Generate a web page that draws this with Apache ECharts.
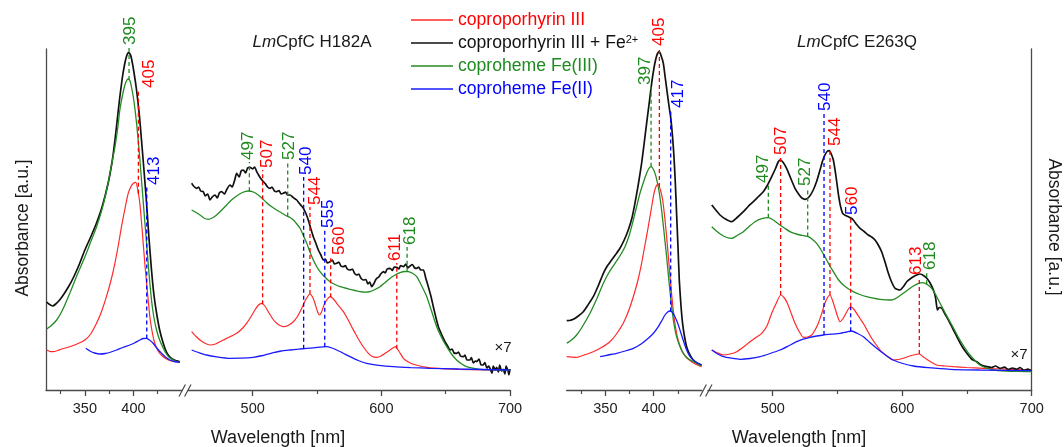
<!DOCTYPE html>
<html>
<head>
<meta charset="utf-8">
<script src="https://cdn.jsdelivr.net/npm/echarts@6/dist/echarts.min.js"></script>
<style>
  html, body { margin: 0; padding: 0; background: #fff; }
  #chart { width: 1064px; height: 447px; }
</style>
</head>
<body>
<div id="chart"></div>
<script>
// Spectra: [wavelength nm, absorbance a.u.]
// H182A, Soret region
const h182aSoretRed = [[310.7,40],[314,38.5],[317.6,38.3],[322,39.5],[328,41.5],[334.6,43.3],[342,46],[350,50],[356,56],[362,66.7],[367,78],[372.2,93.3],[377,110],[380.9,126.7],[384.5,145],[387.7,163.3],[391,180],[394.6,196.7],[397.5,203.5],[399.7,206.5],[402.5,207.7],[404.5,200],[406.6,186.7],[409,160],[411.7,126.7],[414.5,97],[416.9,73.3],[419.5,57],[422,46.7],[426,38],[430.6,33.3],[436,30],[441,28.5],[447.8,27.7]];
const h182aSoretBlack = [[310.7,88],[313,86],[316.9,84],[320,86],[324,90],[327.8,95],[333,103],[338,112],[344,125],[350,140],[356,153],[362,167],[368,184],[374,207],[378,228],[381,250],[384,276],[386,293],[389,315],[391.2,327],[393,334],[394.8,337.5],[396.5,336],[398,331.5],[400.5,318],[403.2,300],[406,276],[408.3,250],[411,218],[413.5,187],[416,152],[418.6,120],[421,96],[423.8,77],[427,60],[430.6,47],[434,38],[437.5,33],[442,30],[447.8,28.3]];
const h182aSoretGreen = [[310.7,61],[315,64],[321,70],[327,80],[334.6,97],[342,115],[350,133],[356,148],[362,163],[368,182],[374,207],[378,228],[381,243],[384,263],[386,280],[389,296],[391.2,305],[393,309.5],[394.6,311],[396.5,309],[398,303],[400.5,289],[403.2,267],[406,238],[408.3,210],[411,177],[413.5,147],[416,117],[418.6,90],[421,73],[423.8,60],[427,50],[430.6,42],[434,36],[437.5,32],[442,29.5],[447.8,27.7]];
const h182aSoretBlue = [[351,41.7],[356,38.5],[360,37],[365.5,36],[371,36.5],[377,38],[382.6,40],[389,42.5],[396.3,45],[401,47],[406.6,50],[410,51.5],[413.5,51.7],[416.5,50],[420.3,46.7],[424,42],[428.9,36.7],[433,33],[437.5,30],[442,28.5],[447.8,27.7]];

// H182A, visible region (x7)
const h182aVisRed = [[452.5,58.3],[456,53.5],[459,50],[462.5,47],[466.8,45],[471,46],[477.1,50],[482,53],[487.5,56.7],[491.5,61],[495.2,66.7],[498.5,73],[501.7,80],[504.5,85],[506.9,86.7],[509.5,84],[512.1,78.3],[514.8,72.5],[517.3,68.3],[520.5,65],[523.8,63.3],[527.5,64.5],[531.6,68.3],[535,74],[538.1,81.7],[541.5,91],[544.5,96],[546.5,93],[548.4,86.7],[550.2,79],[551.8,75],[553.5,78],[555.4,85],[557.8,90.5],[560.1,93.3],[562.7,91],[565.3,86.7],[568,82.5],[570.5,78.3],[573.8,71],[576.9,63.3],[580.2,55.5],[583.4,48.3],[586.6,42],[589.9,36.7],[593,33.5],[596.4,32.7],[599.7,34],[602.9,36.7],[606.8,40],[610.7,43.3],[613.8,38.5],[617.1,31.7],[621,28],[624.9,25.7],[630,24],[635.3,22.7],[642,21.8],[650.8,21],[670,20.4],[700,20]];
const h182aVisBlack = [[452.5,206.7],[454,204],[456.4,201.7],[458,203],[459.5,199],[461.6,198.3],[463,194],[465,196],[466.8,190],[468.5,193],[470.7,195],[472.5,192],[474,197],[475.9,198.3],[478,196],[480,201],[482.3,205],[484,203],[486,210],[487.5,216.7],[489.5,213],[491,219],[492.7,220],[494.5,217],[496,222],[497.9,222.7],[500,221],[501.5,223],[503.1,218.3],[505,214],[506.5,211],[508.3,208.3],[510,206],[511.5,203],[513.4,201.7],[515,203],[516.8,199],[518.6,198.3],[520.5,199.5],[522,196],[523.8,196.7],[525.5,198],[527,195],[529,195],[531,193],[532.5,191.5],[534.2,190],[536,187],[538,184],[539.4,181.7],[541.5,176],[543.2,170],[545,162],[547.1,153.3],[549,147],[551,140],[553,135],[554.9,130],[556.5,131],[558,127],[560.1,128.3],[562,130],[563.5,126],[565.3,126.7],[567,128],[568.5,124],[570.5,123.3],[572,124.5],[573.5,121],[575.6,120],[577.5,121],[579,117],[580.8,115],[582.5,116],[584,112],[586,110],[588,110.5],[589.5,106],[591,108],[592.5,103.3],[594,106],[595.5,110],[596.4,111.7],[598,113],[599.5,116],[601.6,118.3],[603,117],[604.5,121],[606.8,121.7],[608.5,119.5],[610,123],[611.9,122.7],[613.5,121],[615,124.5],[617.1,123.3],[619,126],[620.5,122],[622.3,124],[624,125.5],[626,122],[627.5,121.7],[629,123],[630.5,120],[632.7,120],[634.5,112],[636.5,103.3],[638.5,94],[640.4,83.3],[642.3,73],[644.3,63.3],[646,58],[648.2,51.7],[650,47],[651.5,44],[653.3,40],[655,41],[656.5,37],[658.5,36.7],[660,38],[661.5,34],[663.7,33.3],[665,35],[666.5,30],[668.9,30],[670,32.5],[671.5,27],[673,29],[674.1,28.3],[676,31],[677.5,25],[679.2,25],[680.5,27.5],[682,22],[683.5,24],[684.4,21.7],[686,17],[687,24],[688.5,20],[689.6,22.7],[691,18],[692,25],[693.5,19],[694.8,20.7],[696,16],[697,24],[698.5,19],[699.2,15],[700,21]];
const h182aVisGreen = [[452.5,180],[456,177.5],[459,175],[462,172],[465.5,170.7],[468.5,172],[471.9,175],[476,180],[479.7,185],[483.5,190],[487.5,194],[492,197.5],[496.5,199],[500.5,198],[504.3,195],[507.5,191.5],[510.8,187.3],[514.5,183.5],[518.6,180],[522.5,177],[526.4,174],[529,172.5],[531.6,170],[534,166.5],[536.8,161.7],[539.5,154],[542,146.7],[544.5,138],[547.1,130],[549.7,123.5],[552.3,118.3],[556,113],[560.1,108.3],[564,105.5],[567.9,103.3],[571.8,102],[575.6,100.7],[579.5,99.5],[583.4,98.3],[587.3,97.8],[591.2,98.3],[595,100.5],[599,103.3],[603,107.5],[606.8,111.7],[610.7,115],[614.6,117.3],[618,118.5],[621,118.3],[624.5,116.5],[627.5,113.3],[631,105],[635.3,93.3],[639,79],[643,63.3],[647,52],[650.8,43.3],[654.5,36],[658.5,30],[662.5,26],[666.3,23.3],[671,21.8],[676.6,20.7],[685,20.3],[700,20]];
const h182aVisBlue = [[452.5,40],[458,37.5],[464.2,35],[472,33.2],[482.3,31.7],[491,31.8],[500.5,32.7],[508,34.5],[516,37.3],[522,39],[529,40],[535.5,40.8],[542,41.7],[550,42.7],[557.5,43.3],[561.5,42],[565.3,40],[570,37],[575.6,33.3],[582,29.5],[588.6,26.7],[598,24.7],[609.4,23.3],[623,22.4],[637.8,21.7],[660,21],[700,20]];

// E263Q, Soret region
const e263qSoretRed = [[310,33.3],[315,32.8],[320.3,32.7],[328,35],[337.5,38.3],[346,42.5],[354.7,48.3],[361.5,56],[368.5,66.7],[374,79],[378.9,93.3],[383.5,109],[387.5,126.7],[391,145],[394.4,163.3],[397.5,181],[400.3,196.7],[402.6,204],[404.8,206],[407,200],[409.3,190],[411.3,174],[413.4,153.3],[415.5,130],[417.5,106.7],[419.8,84],[422,66.7],[425,51],[428.9,40],[433.5,33],[439.3,28.3],[444,25.5],[449.6,23.3]];
const e263qSoretBlack = [[310,69.3],[313,69.5],[316.9,70.7],[322,74],[327.2,78.3],[332,85],[337.5,93.3],[343,105],[347.9,116.7],[352,124],[356.5,130],[361,136],[365.1,141.7],[369.5,150],[373.7,160],[377.5,172],[380.6,186.7],[384,205],[387.5,226.7],[390.2,247],[392.7,266.7],[395.5,288],[397.9,306.7],[400.3,322],[402.4,331.7],[404,336.5],[405.8,338.3],[407.8,334],[410,326.7],[412,312],[414.1,296.7],[416,283],[417.5,273.3],[419.3,256],[421,233.3],[422.5,205],[423.7,176.7],[425.2,142],[426.5,110],[428.2,85],[429.9,66.7],[432,53],[434.1,43.3],[437.5,35],[441,30],[445,27],[449.6,25]];
const e263qSoretGreen = [[310,46.7],[315,50],[320.3,55],[326,63],[334.1,76.7],[341,91],[347.9,106.7],[354,118],[360,126.7],[365,134],[370.3,143.3],[374.8,155],[378.9,170],[382.5,184],[385.8,196.7],[389.5,208],[392.7,216.7],[395,221.5],[397.2,223.3],[399.8,220.5],[402.4,213.3],[405.5,199],[408.2,180],[410.8,157],[413.4,133.3],[416,107],[418.6,83.3],[421,66],[423.7,53.3],[427,44],[430.6,36.7],[435.5,31.5],[441,28.3],[449.6,24]];
const e263qSoretBlue = [[344.5,33.3],[353,35],[361.8,36.7],[370.5,39],[379,41.7],[387,46],[394.4,51.7],[400,57],[404.8,63.3],[408.5,69.5],[411.7,75],[414.5,78],[416.9,79],[419.5,77.5],[422,73.3],[424.6,67.5],[427.2,60],[430.5,50],[434.1,40],[437.5,33.5],[441,30],[445,27],[449.6,25]];

// E263Q, visible region (x7)
const e263qVisRed = [[452.9,40],[457.5,37],[461.9,35],[467,36],[472.2,38.3],[477.4,43],[482.5,48.3],[487,52.5],[491.5,56.7],[495.5,64],[499.2,76.7],[502.8,87],[506.1,95],[508.7,92.5],[511.3,86.7],[514.3,76.5],[517.2,66.7],[520.4,58.5],[523.6,52.7],[526.9,53],[530.1,55],[532.7,60],[535.2,66.7],[537.8,76.5],[540.3,86.7],[542.3,92.5],[544.2,95],[546.2,89.5],[548.1,81.7],[550,74],[551.9,68.3],[554.3,71.5],[556.6,76.7],[558.4,81],[560.2,83.3],[562.5,81],[564.8,76.7],[567.4,71.5],[569.9,66.7],[573.2,59],[576.4,51.7],[580.3,44.5],[584.1,38.3],[588.6,33.5],[593.1,30],[597,30.5],[600.8,31.7],[604.7,33.5],[608.6,35],[613.2,36],[616,33.5],[618.9,30.7],[622.8,27.5],[626.6,25],[633,24],[639.5,23.3],[650,22.5],[662.7,21.7],[680,20.8],[700,20]];
const e263qVisBlack = [[452.9,185],[456,180],[459.3,175],[463.5,171],[468.3,168.3],[472.5,172.5],[477.3,178.3],[481,183.5],[485,188.3],[489,193.5],[492.7,198.3],[496,205],[499.2,213.3],[502.3,222],[504.2,228],[505.6,230],[507.8,228],[510.7,221.7],[513.8,212],[517.2,201.7],[520.5,195],[522.5,192],[524.9,190.7],[528,193],[531.3,200],[534,209],[536.5,220],[538.5,229],[540.3,235],[542,238.5],[543.7,239.3],[545.2,236],[546.8,230],[548.7,215],[550.6,196.7],[552.3,184],[554,176.7],[556.2,174.5],[558.4,173.3],[560.3,172],[562.2,170],[564.8,165.5],[567.4,161.7],[570.6,158.5],[573.8,155],[576.4,153],[579,150],[581.5,145],[584.1,138.3],[586.7,128],[589.3,116.7],[591.8,108],[594.4,101.7],[596.4,100.5],[598.3,100],[601,103.5],[603.5,108.3],[606,111],[608.6,113.3],[611.2,115],[613.8,116],[616.4,114.5],[619,111.7],[621.5,107],[624.1,100],[625.8,92],[627.2,80],[628.6,82.5],[630.6,81.7],[633,76],[635.7,70],[639,61.5],[642.2,53.3],[646,44],[649.9,36.7],[653.5,31],[657.6,28.3],[661,25],[665.3,23.3],[669,22.5],[672,24],[675.6,21.7],[679,22.8],[682,20.5],[685,22],[688.5,20.7],[691,22.5],[694,19.5],[697,20.8],[700,19.3]];
const e263qVisGreen = [[452.9,163.3],[456.5,159],[460.6,155],[464.5,152.5],[468.3,151.7],[472.5,154.5],[477.3,158.3],[481.8,163.5],[486.3,168.3],[491.5,171.3],[496.6,172.3],[501,169.5],[505.6,165],[509.5,161.5],[513.3,158.3],[517.2,156.3],[521.1,155],[524.3,154.3],[527.5,153.3],[530.7,150.5],[533.9,146.7],[537.1,140.5],[540.3,133.3],[543.5,125.5],[546.8,118.3],[550.6,110.5],[554.5,105],[558.3,101.2],[562.2,98.3],[567.3,95.5],[572.5,93.3],[577.6,91.8],[582.8,90.7],[587.3,90.2],[591.8,90],[596.3,92.5],[600.8,96.7],[604.7,100.5],[608.6,104],[612.2,106.3],[615.8,107.3],[619.3,105.5],[622.7,101.7],[626,95],[629.2,86.7],[633,77.5],[636.9,68.3],[640.8,59],[644.6,50],[648.5,42],[652.3,35],[656.2,29.5],[660,25],[665,22],[670.3,20],[680,19],[690,18.6],[700,18.3]];
const e263qVisBlue = [[452.9,40],[457.5,36],[461.9,33.3],[468,31.8],[474.8,30.7],[482.5,31.5],[490.2,33.3],[498,36.5],[505.6,40],[512,44],[518.5,48.3],[523.5,50.8],[528.8,52.7],[534,54],[539.1,55],[545.5,55.8],[552,56.7],[557,58],[561,59],[565.5,56.5],[570,53.3],[575,47.5],[580.3,41.7],[586.5,35.5],[593.1,30],[600.5,26.5],[608.6,24],[620,22.3],[636.9,20.7],[660,20],[700,19.3]];

// Peak markers: [wavelength, height of dashed line top, label, which curve]
const peaksH182aSoret = [[395.5,343,'395','green'],[405.1,300,'405','red'],[413.7,203,'413','blue']];
const peaksH182aVis = [[497.4,228,'497','green'],[507.7,220,'507','red'],[527.2,228,'527','green'],[539.6,213,'540','blue'],[544.5,183,'544','red'],[556,160,'555','blue'],[560.6,133,'560','red'],[612,127,'611','red'],[620,143,'618','green']];
const peaksE263qSoret = [[397.3,303,'397','green'],[405.9,342,'405','red'],[417.6,280,'417','blue']];
const peaksE263qVis = [[496.6,205,'497','green'],[506.1,233,'507','red'],[527,202,'527','green'],[539.6,277,'540','blue'],[544.2,242,'544','red'],[560.2,173,'{b|5}{r|60}','red'],[560.2,83,'','blue'],[613.2,113,'613','red'],[618.9,118,'618','green']];

// tick values
const soretRange = [310, 450];
const visRange = [450, 700];
const soretMajor = [350, 400];
const soretMinor = [325, 375, 425];
const visMajor = [500, 600, 700];
const visMinor = [550, 650];

const FONT = "'Liberation Sans', Arial, sans-serif";
const AXIS = '#4a4a4a';
const keys = ['red', 'black', 'green', 'blue'];
const names = {
    red: 'coproporhyrin III',
    black: 'coproporhyrin III + Fe2+',
    green: 'coproheme Fe(III)',
    blue: 'coproheme Fe(II)'
};
const lineColors = { red: '#ff2a2a', black: '#111111', green: '#238b23', blue: '#1a1aff' };
const textColors = { red: '#ff0000', black: '#111111', green: '#1f8a1f', blue: '#0000ff' };
const lineWidths = { red: 1.2, black: 1.7, green: 1.3, blue: 1.3 };

// layout: one grid per axis segment
const PLOT_TOP = 49, PLOT_H = 341;
const panels = [
    { left: 46, width: 136, range: soretRange, major: soretMajor, minor: soretMinor,
      curves: { red: h182aSoretRed, black: h182aSoretBlack, green: h182aSoretGreen, blue: h182aSoretBlue },
      peaks: peaksH182aSoret, shift: [1, 10.5, 7.5] },
    { left: 188.4, width: 321.6, range: visRange, major: visMajor, minor: visMinor,
      curves: { red: h182aVisRed, black: h182aVisBlack, green: h182aVisGreen, blue: h182aVisBlue },
      peaks: peaksH182aVis, shift: [-1, 4.6, 1.3, 2.4, 5, 3.3, 8.3, -1.7, 2.9] },
    { left: 566.7, width: 135.3, range: soretRange, major: soretMajor, minor: soretMinor,
      curves: { red: e263qSoretRed, black: e263qSoretBlack, green: e263qSoretGreen, blue: e263qSoretBlue },
      peaks: peaksE263qSoret, shift: [-6, 0, 7.6] },
    { left: 708, width: 323.7, range: visRange, major: visMajor, minor: visMinor,
      curves: { red: e263qVisRed, black: e263qVisBlack, green: e263qVisGreen, blue: e263qVisBlue },
      peaks: peaksE263qVis, shift: [-5, 1, -2.4, 1, 5, 2, 0, -2.6, 4] }
];

// value of a curve at a wavelength (to start the dashed line on the curve)
function curveAt(curve, wl) {
    for (let i = 1; i < curve.length; i++) {
        if (curve[i][0] >= wl) {
            const a = curve[i - 1], b = curve[i];
            const t = (wl - a[0]) / (b[0] - a[0]);
            return a[1] + t * (b[1] - a[1]);
        }
    }
    return curve[curve.length - 1][1];
}

function peakRenderer(panel) {
    return function (params, api) {
        const pk = panel.peaks[params.dataIndex];
        const p0 = api.coord([api.value(0), api.value(1)]);
        const p1 = api.coord([api.value(0), api.value(2)]);
        const children = [{
            type: 'line',
            shape: { x1: p0[0], y1: p0[1], x2: p1[0], y2: p1[1] },
            style: { stroke: textColors[pk[3]], lineWidth: 1.3, lineDash: [4, 3] }
        }];
        if (pk[2]) {
            children.push({
                type: 'text',
                x: p1[0] + panel.shift[params.dataIndex],
                y: p1[1] - 2,
                rotation: Math.PI / 2,
                style: {
                    text: pk[2], fill: textColors[pk[3]], fontSize: 17, fontFamily: FONT,
                    align: 'left', verticalAlign: 'middle',
                    rich: {
                        b: { fill: textColors.blue, fontSize: 17, fontFamily: FONT },
                        r: { fill: textColors.red, fontSize: 17, fontFamily: FONT }
                    }
                }
            });
        }
        return { type: 'group', children: children };
    };
}

const grids = [], xAxes = [], yAxes = [], series = [];
panels.forEach((p, gi) => {
    grids.push({ left: p.left, top: PLOT_TOP, width: p.width, height: PLOT_H });
    xAxes.push({
        type: 'value', gridIndex: gi, min: p.range[0], max: p.range[1], position: 'bottom',
        axisLine: { show: true, onZero: false, lineStyle: { color: AXIS, width: 1.3 } },
        axisTick: { show: true, length: 6, customValues: p.major, lineStyle: { color: AXIS, width: 1.3 } },
        axisLabel: { show: true, customValues: p.major, margin: 11, fontSize: 14.5, fontFamily: FONT, color: '#222' },
        splitLine: { show: false }
    });
    xAxes.push({
        type: 'value', gridIndex: gi, min: p.range[0], max: p.range[1], position: 'bottom', offset: 0,
        axisLine: { show: false, onZero: false },
        axisTick: { show: true, length: 4, customValues: p.minor, lineStyle: { color: AXIS, width: 1.2 } },
        axisLabel: { show: false },
        splitLine: { show: false }
    });
    yAxes.push({
        type: 'value', gridIndex: gi, min: 0, max: PLOT_H,
        show: gi === 0 || gi === 3,
        position: gi === 3 ? 'right' : 'left',
        axisLine: { show: true, lineStyle: { color: AXIS, width: 1.3 } },
        axisTick: { show: false }, axisLabel: { show: false }, splitLine: { show: false }
    });
    keys.forEach(k => {
        series.push({
            name: names[k], type: 'line', xAxisIndex: gi * 2, yAxisIndex: gi,
            data: p.curves[k], symbol: 'none', showSymbol: false, smooth: 0.2, silent: true,
            lineStyle: { color: lineColors[k], width: lineWidths[k] },
            itemStyle: { color: lineColors[k] }, z: 2
        });
    });
    series.push({
        type: 'custom', xAxisIndex: gi * 2, yAxisIndex: gi, silent: true, z: 3, clip: false,
        data: p.peaks.map(pk => [pk[0], curveAt(p.curves[pk[3]], pk[0]), pk[1]]),
        renderItem: peakRenderer(p)
    });
});

// axis breaks "//"
function breakMark(cx) {
    return [-2.8, 2.8].map(d => ({
        type: 'line', silent: true,
        shape: { x1: cx + d - 3.2, y1: 396.5, x2: cx + d + 3.2, y2: 384.5 },
        style: { stroke: AXIS, lineWidth: 1.2 }
    }));
}

function text(str, x, y, size, opts) {
    return Object.assign({
        type: 'text', x: x, y: y, silent: true,
        style: { text: str, fontSize: size, fontFamily: FONT, fill: '#1a1a1a', align: 'center', verticalAlign: 'middle' }
    }, opts || {});
}

const titleRich = {
    i: { fontSize: 17, fontFamily: FONT, fontStyle: 'italic', fill: '#1a1a1a' },
    n: { fontSize: 17, fontFamily: FONT, fill: '#1a1a1a' }
};

const chart = echarts.init(document.getElementById('chart'));
chart.setOption({
    animation: false,
    backgroundColor: '#fff',
    grid: grids,
    xAxis: xAxes,
    yAxis: yAxes,
    legend: {
        orient: 'vertical', left: 411, top: 11, padding: 0,
        icon: 'rect', itemWidth: 42, itemHeight: 1.7, itemGap: 5,
        selectedMode: false,
        data: keys.map(k => ({ name: names[k], textStyle: { color: textColors[k] } })),
        formatter: name => name === names.black ? '{t|coproporhyrin III + Fe}{s|2+}' : name,
        textStyle: {
            fontSize: 17.6, fontFamily: FONT, lineHeight: 18,
            rich: {
                t: { fontSize: 17.6, fontFamily: FONT, color: '#111', lineHeight: 18 },
                s: { fontSize: 11, fontFamily: FONT, color: '#111', lineHeight: 10, verticalAlign: 'top' }
            }
        }
    },
    graphic: [
        ...breakMark(185),
        ...breakMark(706),
        { type: 'text', x: 312, y: 42, silent: true,
          style: { text: '{i|Lm}{n|CpfC H182A}', align: 'center', verticalAlign: 'middle', rich: titleRich } },
        { type: 'text', x: 857, y: 42, silent: true,
          style: { text: '{i|Lm}{n|CpfC E263Q}', align: 'center', verticalAlign: 'middle', rich: titleRich } },
        text('Wavelength [nm]', 278, 438, 18),
        text('Wavelength [nm]', 799, 438, 18),
        text('Absorbance [a.u.]', 23.5, 228, 17.5, { rotation: Math.PI / 2 }),
        text('Absorbance [a.u.]', 1054, 227, 17.5, { rotation: -Math.PI / 2 }),
        text('\u00d77', 503, 348, 15),
        text('\u00d77', 1019, 355, 15)
    ],
    series: series
});
</script>
</body>
</html>
